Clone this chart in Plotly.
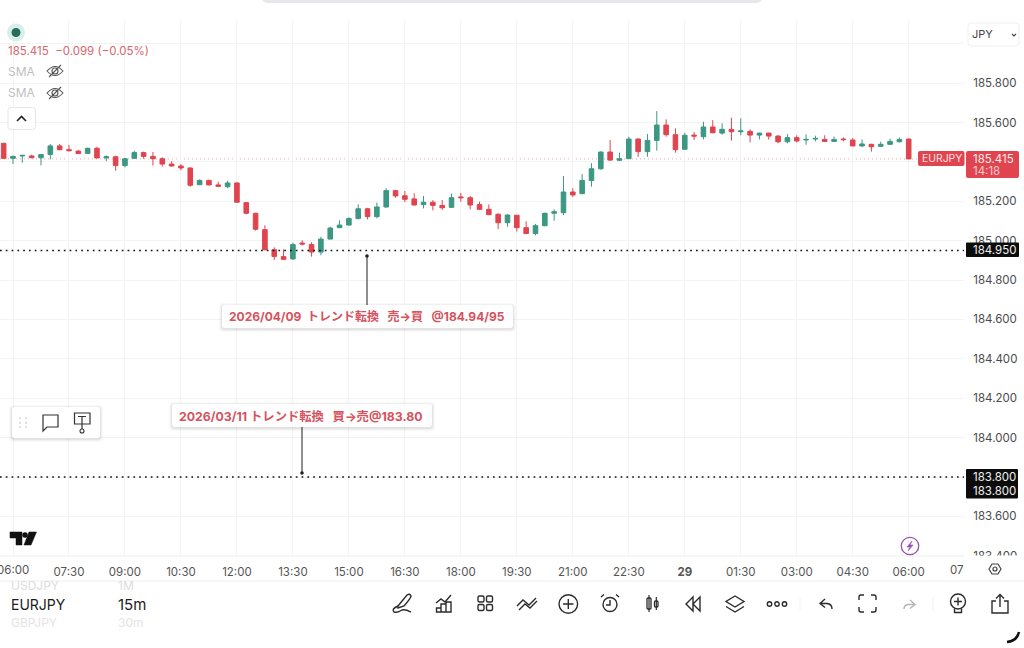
import pandas as pd
import plotly.graph_objects as go

# EURJPY 15m candles
times = pd.date_range("2026-04-28 05:45", periods=98, freq="15min")
opens = [185.494, 185.418, 185.430, 185.430, 185.421, 185.437, 185.481, 185.462, 185.455, 185.443,
         185.469, 185.420, 185.426, 185.381, 185.418, 185.447, 185.428, 185.416, 185.389, 185.379,
         185.369, 185.284, 185.306, 185.283, 185.274, 185.293, 185.193, 185.139, 185.056, 184.954,
         184.919, 184.907, 184.988, 184.980, 184.942, 185.008, 185.066, 185.079, 185.112, 185.162,
         185.122, 185.171, 185.254, 185.228, 185.212, 185.183, 185.195, 185.179, 185.169, 185.222,
         185.218, 185.183, 185.159, 185.134, 185.091, 185.129, 185.066, 185.036, 185.076, 185.139,
         185.142, 185.247, 185.239, 185.305, 185.365, 185.450, 185.408, 185.416, 185.516, 185.452,
         185.509, 185.587, 185.538, 185.464, 185.536, 185.528, 185.577, 185.546, 185.565, 185.553,
         185.555, 185.536, 185.546, 185.531, 185.502, 185.523, 185.511, 185.516, 185.514, 185.504,
         185.516, 185.511, 185.481, 185.489, 185.479, 185.489, 185.502, 185.516]
highs = [185.497, 185.431, 185.435, 185.437, 185.440, 185.491, 185.491, 185.486, 185.459, 185.472,
         185.477, 185.433, 185.431, 185.420, 185.457, 185.452, 185.450, 185.423, 185.403, 185.389,
         185.371, 185.311, 185.310, 185.299, 185.305, 185.296, 185.196, 185.142, 185.078, 184.966,
         184.956, 184.990, 185.002, 184.992, 185.020, 185.071, 185.103, 185.118, 185.184, 185.167,
         185.193, 185.266, 185.257, 185.252, 185.240, 185.227, 185.206, 185.206, 185.239, 185.242,
         185.227, 185.198, 185.184, 185.139, 185.135, 185.130, 185.098, 185.085, 185.142, 185.159,
         185.328, 185.266, 185.338, 185.393, 185.453, 185.511, 185.447, 185.528, 185.519, 185.541,
         185.658, 185.616, 185.570, 185.548, 185.552, 185.604, 185.612, 185.596, 185.624, 185.621,
         185.565, 185.548, 185.548, 185.536, 185.541, 185.535, 185.540, 185.533, 185.535, 185.528,
         185.524, 185.521, 185.514, 185.492, 185.502, 185.518, 185.524, 185.518]
lows = [185.416, 185.389, 185.396, 185.418, 185.382, 185.413, 185.459, 185.453, 185.440, 185.440,
        185.418, 185.403, 185.355, 185.372, 185.416, 185.416, 185.381, 185.376, 185.377, 185.357,
        185.274, 185.283, 185.281, 185.271, 185.266, 185.193, 185.134, 185.051, 184.951, 184.902,
        184.902, 184.904, 184.975, 184.919, 184.926, 185.007, 185.064, 185.078, 185.108, 185.108,
        185.113, 185.167, 185.218, 185.196, 185.179, 185.164, 185.154, 185.156, 185.167, 185.198,
        185.159, 185.156, 185.130, 185.058, 185.071, 185.046, 185.034, 185.027, 185.073, 185.101,
        185.130, 185.222, 185.235, 185.274, 185.360, 185.406, 185.404, 185.415, 185.425, 185.426,
        185.457, 185.528, 185.447, 185.462, 185.511, 185.514, 185.545, 185.538, 185.508, 185.535,
        185.499, 185.514, 185.513, 185.494, 185.494, 185.499, 185.487, 185.504, 185.502, 185.501,
        185.504, 185.479, 185.475, 185.452, 185.475, 185.486, 185.499, 185.415]
closes = [185.418, 185.428, 185.433, 185.421, 185.437, 185.481, 185.462, 185.457, 185.442, 185.469,
          185.420, 185.426, 185.381, 185.416, 185.447, 185.428, 185.416, 185.389, 185.379, 185.369,
          185.281, 185.306, 185.283, 185.276, 185.293, 185.195, 185.139, 185.058, 184.954, 184.920,
          184.905, 184.980, 184.983, 184.942, 185.008, 185.064, 185.079, 185.112, 185.162, 185.122,
          185.171, 185.254, 185.227, 185.210, 185.181, 185.195, 185.179, 185.167, 185.218, 185.218,
          185.181, 185.159, 185.132, 185.091, 185.130, 185.066, 185.036, 185.076, 185.139, 185.147,
          185.247, 185.232, 185.305, 185.365, 185.450, 185.409, 185.416, 185.516, 185.452, 185.509,
          185.587, 185.538, 185.462, 185.535, 185.531, 185.577, 185.548, 185.565, 185.553, 185.557,
          185.536, 185.546, 185.531, 185.502, 185.523, 185.506, 185.514, 185.519, 185.504, 185.514,
          185.513, 185.481, 185.491, 185.477, 185.489, 185.504, 185.514, 185.415]

tick_times = pd.date_range("2026-04-28 06:00", periods=17, freq="90min")
tick_labels = ["06:00", "07:30", "09:00", "10:30", "12:00", "13:30", "15:00", "16:30", "18:00",
               "19:30", "21:00", "22:30", "<b>29</b>", "01:30", "03:00", "04:30", "06:00"]
# 185.400 and 183.800 sit behind the price tags, 186.000 behind the currency select
price_ticks = [183.4, 183.6, 183.8, 184.0, 184.2, 184.4, 184.6, 184.8, 185.0, 185.2, 185.4, 185.6, 185.8, 186.0]
price_labels = ["183.400", "183.600", "", "184.000", "184.200", "184.400", "184.600", "184.800",
                "185.000", "185.200", "", "185.600", "185.800", ""]
levels = [184.95, 183.80]
last_price = 185.415

GREEN = "#3c9783"
RED = "#df444f"
INK = "#2b2b2b"
GRID = "#f3f3f4"
FONT = "Inter, Noto Sans CJK JP, sans-serif"

# the plot area in window pixels, all the overlay furniture is placed in pixels
PLOT_R, PLOT_T, PLOT_B = 964, 20, 556


def fx(x):
    return x / PLOT_R


def fy(y):
    return (PLOT_B - y) / (PLOT_B - PLOT_T)


shapes = []
notes = []


def path(d, color=INK, width=1.4, fill=None):
    out = []
    is_x = True
    for tok in d.split():
        if tok.isalpha():
            out.append(tok)
            is_x = True
        else:
            out.append(str(round(fx(float(tok)) if is_x else fy(float(tok)), 5)))
            is_x = not is_x
    shapes.append(dict(type="path", xref="paper", yref="paper", path=" ".join(out),
                       line=dict(color=color, width=width), fillcolor=fill, layer="above"))


def rrect(x0, y0, x1, y1, r=3, fill="white", color=None, width=1):
    d = (f"M {x0 + r} {y0} L {x1 - r} {y0} Q {x1} {y0} {x1} {y0 + r} L {x1} {y1 - r} Q {x1} {y1} {x1 - r} {y1} "
         f"L {x0 + r} {y1} Q {x0} {y1} {x0} {y1 - r} L {x0} {y0 + r} Q {x0} {y0} {x0 + r} {y0} Z")
    path(d, color=color or "rgba(0,0,0,0)", width=width, fill=fill)


def circle(cx, cy, r, color=INK, width=1.4, fill=None):
    shapes.append(dict(type="circle", xref="paper", yref="paper", layer="above",
                       x0=fx(cx - r), x1=fx(cx + r), y0=fy(cy + r), y1=fy(cy - r),
                       line=dict(color=color if color else "rgba(0,0,0,0)", width=width), fillcolor=fill))


def label(x, y, text, size=11.5, color=INK, anchor="left", family=FONT):
    notes.append(dict(xref="paper", yref="paper", x=fx(x - 1 if anchor == "left" else x), y=fy(y),
                      text=text, showarrow=False, xanchor=anchor, yanchor="middle", borderpad=0,
                      font=dict(family=family, size=size, color=color)))


def shadow_box(x0, y0, x1, y1):
    for grow, alpha in ((3, 0.025), (2, 0.035), (1, 0.05)):
        rrect(x0 - grow, y0 - grow + 1, x1 + grow, y1 + grow + 1, r=4, fill=f"rgba(0,0,0,{alpha})")
    rrect(x0, y0, x1, y1, r=3)


fig = go.Figure(go.Candlestick(
    x=times, open=opens, high=highs, low=lows, close=closes,
    increasing=dict(line=dict(color=GREEN, width=1), fillcolor=GREEN),
    decreasing=dict(line=dict(color=RED, width=1), fillcolor=RED),
    whiskerwidth=0, hoverinfo="skip", showlegend=False,
))

# last price and the two horizontal levels
shapes.append(dict(type="line", xref="paper", yref="y", x0=0, x1=1, y0=last_price, y1=last_price,
                   line=dict(color="#eba6ab", width=1, dash="1px,3px"), layer="below"))
for lv in levels:
    shapes.append(dict(type="line", xref="paper", yref="y", x0=0, x1=1, y0=lv, y1=lv,
                       line=dict(color="#111111", width=1.7, dash="1.7px,4.1px"), layer="above"))

# axis borders, header pill
path("M 0 556 L 964 556", color="#eeeeee", width=1)
rrect(964.5, 555.5, 1024, 564, r=0)
path("M 0 581 L 1024 581", color="#eeeeee", width=1)
rrect(262, -8, 762, 3, r=6, fill="#e6e6ec")

# legend block, top left
circle(16, 32.5, 9, color=None, width=0, fill="#d7eeeb")
circle(16, 32.5, 4.5, color=None, width=0, fill="#2a6b5c")
label(8, 51, "185.415  −0.099 (−0.05%)", size=11.5, color="#d8656d")
for sy in (71, 93):
    label(8, sy, "SMA", size=12, color="#c0c0c0")
    path(f"M 47 {sy} Q 55 {sy - 9} 63 {sy} Q 55 {sy + 9} 47 {sy} Z", color="#555555", width=1.1)
    circle(55, sy, 3, color="#555555", width=1.1)
    path(f"M 49 {sy + 6} L 61 {sy - 6}", color="#555555", width=1.1)
rrect(8, 107.5, 35.5, 129.5, r=3, color="#e6e6e6")
path("M 17 121 L 21.5 116.5 L 26 121", color="#222222", width=1.6)

# currency select
rrect(968, 23, 1019, 46, r=3, color="#efefef")
label(972, 34, "JPY", size=11, color="#444444")
path("M 1012 34 L 1014 36 L 1016 34", color="#444444", width=1.1)

# price scale tags
rrect(918, 151, 964.5, 166, r=2, fill=RED)
label(941.5, 158.5, "EURJPY", size=10.4, color="#fbe3e4", anchor="center")
rrect(966, 151, 1019, 178, r=2, fill=RED)
label(973, 158.5, "185.415", size=11.5, color="#fdeeee")
label(973, 171, "14:18", size=11.5, color="#f6c9cc")
rrect(966, 242.5, 1019, 257, r=1, fill="#0c0c0c")
label(973, 250, "184.950", size=11.5, color="#f2f2f2")
rrect(966, 469, 1018, 498.5, r=1, fill="#0c0c0c")
label(973, 477, "183.800", size=11.5, color="#f2f2f2")
label(973, 491, "183.800", size=11.5, color="#f2f2f2")

# callouts
path("M 367 256 L 367 305", color="#333333", width=1.1)
circle(367, 256, 1.8, color=None, width=0, fill="#222222")
shadow_box(222, 305, 513, 328)
label(229, 316.5, "<b>2026/04/09  トレンド転換   売→買   @184.94/95</b>", size=12, color="#d6525d")
path("M 302 427 L 302 473", color="#333333", width=1.1)
circle(302, 473, 1.8, color=None, width=0, fill="#222222")
shadow_box(172, 404, 432, 427)
label(179, 416, "<b>2026/03/11 トレンド転換   買→売@183.80</b>", size=12.3, color="#d6525d")

# floating drawing widget
shadow_box(12, 407, 100, 438)
for dx in (20, 26):
    for dy in (418, 423, 427):
        circle(dx, dy, 0.9, color=None, width=0, fill="#d2d2d2")
path("M 43 415 L 58 415 L 58 427 L 47 427 L 43 431 Z", color="#333333", width=1.2)
path("M 74.5 413 L 90 413 L 90 424 L 74.5 424 Z", color="#333333", width=1.2)
path("M 78 416.5 L 86 416.5 M 82 416.5 L 82 429", color="#333333", width=1.2)
circle(82, 431, 2, color="#333333", width=1.1)

# tradingview mark and the lightning badge
path("M 10 532 L 22 532 L 22 545 L 16 545 L 16 538 L 10 538 Z", color="#111111", width=0.5, fill="#111111")
circle(25, 535, 2.7, color=None, width=0, fill="#111111")
path("M 29 532 L 36.5 532 L 31 545 L 24 545 Z", color="#111111", width=0.5, fill="#111111")
circle(910, 546, 8.7, color="#9a50b4", width=1.3)
path("M 912 541 L 907 547 L 910 547 L 908 551 L 913 545 L 910 545 Z", color="#9a50b4", width=0.6, fill="#9a50b4")
# the first time label runs off the window, plotly drops such tick labels
label(13, 570, "06:00", size=11.5, color="#555555", anchor="center")
label(957, 570, "07", size=11.5, color="#555555", anchor="center")
path("M 989 569 L 992 564 L 998 564 L 1001 569 L 998 574 L 992 574 Z", color="#444444", width=1.2)
circle(995, 569, 2, color="#444444", width=1.2)

# symbol wheel
label(11, 585.5, "USDJPY", size=12, color="#dddddd")
label(118, 585.5, "1M", size=12, color="#dddddd")
label(11, 604, "EURJPY", size=14, color="#1c1c1c")
label(118, 604, "15m", size=15, color="#1c1c1c")
label(11, 622, "GBPJPY", size=12, color="#e4e4e4")
label(118, 622, "30m", size=12, color="#e4e4e4")

# bottom toolbar icons
path("M 398 606 L 407 595 Q 410 593 411 596 Q 411 598 404 606 L 398 608 Z")
path("M 398 606 Q 391 609 394 612 Q 398 613 402 610 Q 405 609 411 612")
path("M 436.5 612 L 436.5 608 L 441 608 L 441 612 Z M 441 612 L 441 604 L 446 604 L 446 612 Z "
     "M 446 612 L 446 602 L 451 602 L 451 612 Z")
path("M 436 603 L 441 599 L 445 602 L 451 595")
for qx, qy in ((478, 596), (486.5, 596), (478, 604.5), (486.5, 604.5)):
    rrect(qx, qy, qx + 6, qy + 6, r=1.5, fill=None, color=INK, width=1.4)
path("M 517 606 L 523 600 L 529 605 L 536 598")
path("M 519 610 L 525 604 L 530 608 L 537 601")
circle(568.3, 604, 9.3)
path("M 563 604 L 573.5 604 M 568.3 599 L 568.3 609")
circle(610, 604.5, 7)
path("M 601 597 L 604 594.5 M 616 594.5 L 619 597 M 610 600 L 610 605 L 606 605")
rrect(647, 598, 651, 609, r=1, fill=None, color=INK, width=1.3)
rrect(654.5, 601, 658, 607, r=1, fill=None, color=INK, width=1.3)
path("M 649 595 L 649 612 M 656.3 597 L 656.3 610", width=1.2)
path("M 693 597 L 686 604 L 693 611 Z M 700 597 L 693 604 L 700 611 Z")
path("M 735 596 L 744 601.5 L 735 607 L 726 601.5 Z M 726 606.5 L 735 612 L 744 606.5")
for dot in (769.5, 777, 784.5):
    circle(dot, 604, 2.2)
path("M 800 598 L 800 610", color="#f0f0f0", width=1)
path("M 825 599 L 820 603.5 L 825 607.5 M 820 603.5 L 827 603.5 Q 832 604 832 609")
path("M 859 600 L 859 597 Q 859 595 861 595 L 864 595 M 871 595 L 874 595 Q 876 595 876 597 L 876 600 "
     "M 876 607 L 876 610 Q 876 612 874 612 L 871 612 M 864 612 L 861 612 Q 859 612 859 610 L 859 607")
path("M 910 600 L 915 604.5 L 910 608.5 M 915 604.5 L 908 604.5 Q 904 605 904 609", color="#b5b5b5")
path("M 933 598 L 933 610", color="#f0f0f0", width=1)
circle(958, 601.5, 7.5)
path("M 954 601.5 L 962 601.5 M 958 597.5 L 958 605.5 M 954.5 608.5 L 954.5 612.5 L 961.5 612.5 L 961.5 608.5")
path("M 996 601 L 992 601 L 992 613 L 1008 613 L 1008 601 L 1004 601")
path("M 1000 607 L 1000 595 M 996 598.5 L 1000 594.5 L 1004 598.5")
path("M 1007 642 Q 1017 641 1019 632", color="#111111", width=2.6)

fig.update_layout(
    width=1024, height=648,
    margin=dict(l=0, r=1024 - PLOT_R, t=PLOT_T, b=648 - PLOT_B),
    paper_bgcolor="white", plot_bgcolor="white",
    font=dict(family=FONT, size=11.5, color="#4a4a4a"),
    showlegend=False,
    shapes=shapes, annotations=notes,
    xaxis=dict(range=["2026-04-28 05:39:06", "2026-04-29 07:28:54"], rangeslider_visible=False,
               tickmode="array", tickvals=tick_times, ticktext=tick_labels, tickangle=0,
               showgrid=True, gridcolor=GRID, gridwidth=1, zeroline=False, showline=False,
               ticks="outside", ticklen=5, tickcolor="rgba(0,0,0,0)",
               tickfont=dict(family=FONT, size=11.5, color="#555555")),
    yaxis=dict(range=[183.399, 186.1203], side="right",
               tickmode="array", tickvals=price_ticks, ticktext=price_labels,
               showgrid=True, gridcolor=GRID, gridwidth=1, zeroline=False, showline=False,
               ticks="outside", ticklen=6, tickcolor="rgba(0,0,0,0)",
               tickfont=dict(family=FONT, size=11.5, color="#4a4a4a")),
)

fig.write_html("out.html", config=dict(displayModeBar=False),
               post_script="document.body.style.margin='0';document.body.style.overflow='hidden';")
